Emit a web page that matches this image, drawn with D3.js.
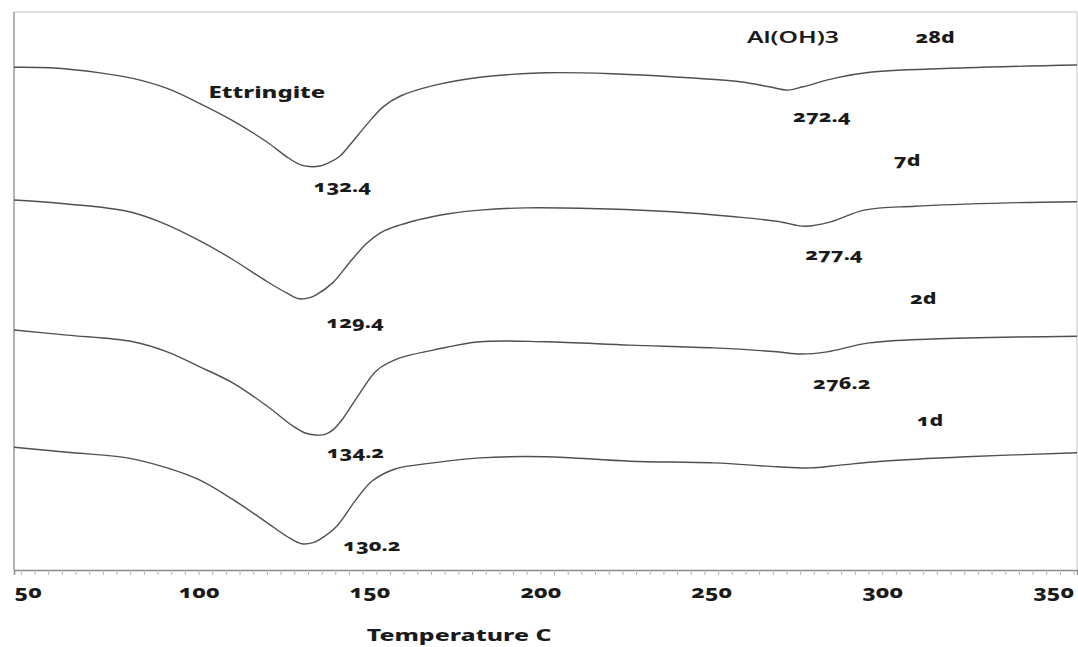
<!DOCTYPE html>
<html>
<head>
<meta charset="utf-8">
<script src="https://cdn.jsdelivr.net/npm/d3@7"></script>
<style>
  html, body { margin: 0; padding: 0; background: #fff; }
  svg { display: block; }
  .lbl { font-family: "Noto Sans", "Open Sans", sans-serif; font-weight: 800; fill: #1a1a1a;
         font-variant-numeric: oldstyle-nums; font-feature-settings: "onum" 1; }
</style>
</head>
<body>
<svg id="chart" width="1078" height="647"></svg>
<script>
// DTA curves of hydrated samples at different ages (signal offset per curve, arbitrary units)
const tempTicks = [50, 100, 150, 200, 250, 300, 350];

const ages = ["28d", "7d", "2d", "1d"];

const temps28 = [46, 56.5, 71.2, 80.8, 90.8, 100.4, 110.1, 120.0, 125.9, 129.5, 132.4, 135.5, 137.9, 141.4, 144.3, 149.3, 154.0, 158.9, 168.6, 182.3, 201.6, 222.4, 238.5, 258.4, 266.9, 272.4, 276.8, 286.5, 296.4, 324.5, 357];
const sig28   = [9.01, 9.00, 8.91, 8.81, 8.63, 8.36, 8.05, 7.67, 7.40, 7.27, 7.23, 7.24, 7.29, 7.42, 7.62, 7.99, 8.30, 8.49, 8.68, 8.83, 8.91, 8.89, 8.84, 8.75, 8.66, 8.60, 8.66, 8.82, 8.92, 9.00, 9.05];

const temps7 = [46, 61.5, 79.1, 88.7, 100.4, 110.1, 120.0, 125.9, 129.4, 132.5, 134.4, 139.3, 144.3, 149.3, 154.0, 163.9, 173.6, 182.3, 195.5, 220.1, 238.5, 256.9, 269.2, 277.4, 285.0, 294.7, 309.6, 336.8, 357];
const sig7   = [6.63, 6.56, 6.43, 6.24, 5.90, 5.56, 5.17, 4.96, 4.86, 4.88, 4.93, 5.15, 5.52, 5.86, 6.07, 6.27, 6.39, 6.45, 6.49, 6.47, 6.42, 6.33, 6.25, 6.16, 6.24, 6.45, 6.52, 6.58, 6.60];

const temps2 = [46, 61.5, 80.8, 90.8, 100.4, 110.1, 120.0, 127.6, 131.0, 134.2, 137.0, 139.5, 142.3, 147.2, 152.2, 158.9, 168.6, 182.3, 201.6, 226.2, 250.8, 269.2, 276.2, 283.9, 296.2, 314.6, 357];
const sig2   = [4.30, 4.21, 4.09, 3.91, 3.64, 3.35, 2.94, 2.58, 2.46, 2.42, 2.43, 2.52, 2.72, 3.17, 3.58, 3.80, 3.94, 4.09, 4.09, 4.03, 3.98, 3.91, 3.87, 3.91, 4.07, 4.14, 4.19];

const temps1 = [46, 61.5, 79.1, 90.8, 100.4, 110.1, 120.0, 125.9, 130.2, 133.5, 135.5, 140.5, 145.8, 150.7, 157.5, 168.6, 182.3, 201.6, 226.2, 250.8, 269.2, 278.9, 287.7, 300.0, 324.5, 357];
const sig1   = [2.20, 2.11, 2.01, 1.83, 1.61, 1.26, 0.85, 0.60, 0.47, 0.49, 0.55, 0.79, 1.24, 1.59, 1.81, 1.92, 2.01, 2.03, 1.95, 1.92, 1.85, 1.83, 1.88, 1.95, 2.03, 2.10];

// peak temperatures annotated on the curves
const peakAges  = ["28d", "28d", "7d", "7d", "2d", "2d", "1d"];
const peakTemps = [132.4, 272.4, 129.4, 277.4, 134.2, 276.2, 130.2];

// ----------------------------------------------------------------
const series = [
  { age: "28d", t: temps28, v: sig28 },
  { age: "7d",  t: temps7,  v: sig7 },
  { age: "2d",  t: temps2,  v: sig2 },
  { age: "1d",  t: temps1,  v: sig1 }
].map(s => ({ age: s.age, pts: s.t.map((t, i) => ({ t, v: s.v[i] })) }));

const plot = { left: 14, right: 1077, top: 12, bottom: 570 };

const x = d3.scaleLinear().domain([46, 357]).range([plot.left, plot.right]);
const y = d3.scaleLinear().domain([0, 10]).range([plot.bottom, plot.top]);

const svg = d3.select("#chart");

// labels are drawn with horizontally widened glyphs
function label(g, px, py, str, size, sx = 1.35) {
  return g.append("text").attr("class", "lbl")
    .attr("transform", `translate(${px},${py}) scale(${sx},1)`)
    .attr("text-anchor", "middle")
    .attr("dominant-baseline", "central")
    .style("font-size", size + "px")
    .text(str);
}

// frame
svg.append("line").attr("x1", plot.left).attr("x2", plot.right).attr("y1", plot.top).attr("y2", plot.top)
  .attr("stroke", "#c4c4c4").attr("stroke-width", 1.2);
svg.append("line").attr("x1", plot.right).attr("x2", plot.right).attr("y1", plot.top).attr("y2", plot.bottom)
  .attr("stroke", "#d0d0d0").attr("stroke-width", 1.2);
svg.append("line").attr("x1", plot.left).attr("x2", plot.left).attr("y1", plot.top).attr("y2", plot.bottom)
  .attr("stroke", "#8a8a8a").attr("stroke-width", 1.3);

// minor ticks along the temperature axis
const minor = svg.append("g").attr("transform", `translate(0,${plot.bottom})`)
  .call(d3.axisBottom(x).tickValues(d3.range(48, 357, 4)).tickSize(5).tickFormat(""));
minor.select(".domain").attr("stroke", "#8a8a8a").attr("stroke-width", 1.5);
minor.selectAll(".tick line").attr("stroke", "#b5b5b5");

// major labels
const major = svg.append("g").attr("transform", `translate(0,${plot.bottom})`)
  .call(d3.axisBottom(x).tickValues(tempTicks).tickSize(0).tickPadding(0));
major.select(".domain").remove();
major.selectAll(".tick text").remove();
major.selectAll(".tick").each(function (d) {
  label(d3.select(this), 0, 21, d, 17);
});

label(svg, 459, 635, "Temperature C", 16, 1.55);

// curves
const line = d3.line().x(d => x(d.t)).y(d => y(d.v)).curve(d3.curveCatmullRom.alpha(0.5));
svg.append("g").selectAll("path").data(series).join("path")
  .attr("d", s => line(s.pts))
  .attr("fill", "none")
  .attr("stroke", "#505050")
  .attr("stroke-width", 1.4)
  .attr("stroke-linejoin", "round");

// peak labels, offset below-right of each minimum
const peakOffsets = [[33, 20], [34, 26], [56, 23], [29, 28], [40, 17], [41, 29], [70, 1]];
peakTemps.forEach((t, i) => {
  const s = series.find(d => d.age === peakAges[i]);
  const p = s.pts.find(d => d.t === t);
  label(svg, x(p.t) + peakOffsets[i][0], y(p.v) + peakOffsets[i][1], t.toFixed(1), 16);
});

// age labels and phase names
const ageLabelPos = [[315.5, 9.55], [307.3, 7.35], [312.0, 4.87], [314.0, 2.68]];
ages.forEach((a, i) => label(svg, x(ageLabelPos[i][0]), y(ageLabelPos[i][1]), a, 16));

label(svg, x(120.0), y(8.58), "Ettringite", 16, 1.5);
label(svg, x(273.9), y(9.55), "Al(OH)3", 16, 1.55)
  .style("font-weight", 600).style("font-variant-numeric", "normal").style("font-feature-settings", "normal");
</script>
</body>
</html>
